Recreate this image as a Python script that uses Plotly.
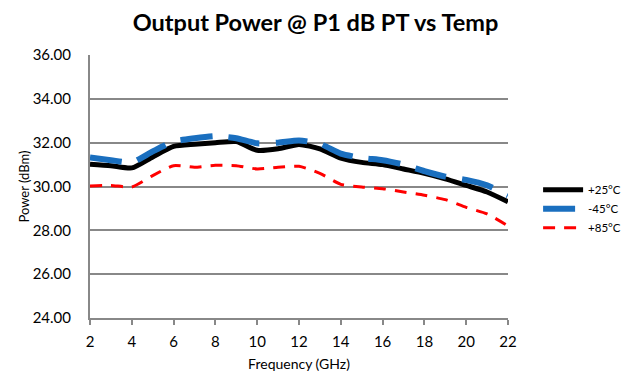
import plotly.graph_objects as go

freq = list(range(2, 23))
p25 = [31.02, 30.95, 30.85, 31.35, 31.83, 31.93, 32.00, 32.05, 31.65, 31.72, 31.92,
       31.72, 31.30, 31.10, 31.00, 30.80, 30.60, 30.35, 30.05, 29.75, 29.30]
m45 = [31.32, 31.20, 31.10, 31.60, 32.05, 32.20, 32.30, 32.20, 31.97, 32.00, 32.10,
       31.95, 31.50, 31.30, 31.20, 31.00, 30.70, 30.45, 30.30, 30.05, 29.60]
p85 = [30.02, 30.05, 29.98, 30.50, 30.95, 30.88, 30.97, 30.95, 30.80, 30.88, 30.92,
       30.60, 30.10, 29.98, 29.90, 29.75, 29.60, 29.40, 29.05, 28.75, 28.20]
names = ["+25°C", "-45°C", "+85°C"]
y_ticks = [24, 26, 28, 30, 32, 34, 36]
x_ticks = list(range(2, 23, 2))

FONT = "Lato"
fig = go.Figure()
fig.add_trace(go.Scatter(x=freq, y=p25, name=names[0], mode="lines",
                         line=dict(color="#000000", width=5, shape="spline", smoothing=0.6)))
fig.add_trace(go.Scatter(x=freq, y=m45, name=names[1], mode="lines",
                         line=dict(color="#1a6fbf", width=6, shape="spline", smoothing=0.6,
                                   dash="32px,16px")))
fig.add_trace(go.Scatter(x=freq, y=p85, name=names[2], mode="lines",
                         line=dict(color="#ff0000", width=3, shape="spline", smoothing=0.6,
                                   dash="12px,9px")))

fig.update_layout(
    width=631, height=378,
    margin=dict(l=90, r=123, t=55, b=60, autoexpand=False),
    paper_bgcolor="white", plot_bgcolor="white",
    font=dict(family=FONT, color="#222"),
    title=dict(text="<b>Output Power @ P1 dB PT vs Temp</b>", x=0.5, xanchor="center",
               y=0.94, yanchor="middle", font=dict(size=23.5, color="#000", family=FONT)),
    legend=dict(x=1.072, y=0.415, xanchor="left", yanchor="middle",
                font=dict(size=11.5, family=FONT, color="#000"),
                tracegroupgap=0, itemwidth=40),
    showlegend=True,
)
fig.update_xaxes(range=[2, 22], tickvals=x_ticks, ticktext=[str(v) for v in x_ticks],
                 showgrid=False, showline=True, linecolor="#888", linewidth=2,
                 ticks="outside", ticklen=5, tickcolor="#888", tickwidth=2,
                 ticklabelstandoff=4, automargin=False,
                 tickfont=dict(size=15, color="#000"), zeroline=False,
                 title=dict(text="Frequency (GHz)", font=dict(size=14, color="#000"), standoff=10))
fig.update_yaxes(range=[24, 36], tickvals=y_ticks, ticktext=[f"{v:.2f}" for v in y_ticks],
                 showgrid=True, gridcolor="#888", gridwidth=2,
                 showline=True, linecolor="#888", linewidth=2, zeroline=False,
                 ticks="", ticklabelstandoff=14, automargin=False,
                 tickfont=dict(size=15, color="#000"),
                 title=dict(text="Power (dBm)", font=dict(size=13, color="#000"), standoff=0))

fig.write_html("out.html", config={"displayModeBar": False},
               post_script="document.body.style.margin='0';")
